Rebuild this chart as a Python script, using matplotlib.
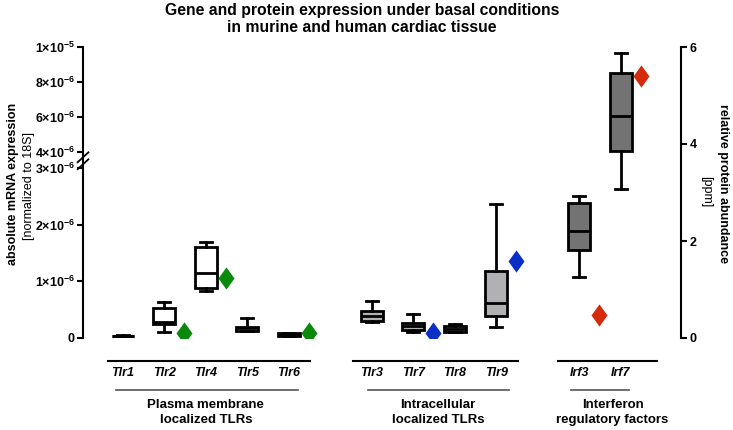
import numpy as np
import matplotlib
matplotlib.use("Agg")
import matplotlib.pyplot as plt
import matplotlib.transforms as mtransforms
from matplotlib.path import Path

plt.rcParams['font.family'] = ['Liberation Sans', 'DejaVu Sans']
plt.rcParams['mathtext.fontset'] = 'custom'
plt.rcParams['mathtext.bf'] = 'Liberation Sans:bold'
plt.rcParams['mathtext.rm'] = 'Liberation Sans'

# mRNA expression, in units of 1e-6
genes = ['Tlr1', 'Tlr2', 'Tlr4', 'Tlr5', 'Tlr6', 'Tlr3', 'Tlr7', 'Tlr8', 'Tlr9', 'Irf3', 'Irf7']
xpos = [0, 1, 2, 3, 4, 6, 7, 8, 9, 11, 12]
whislo = [0.02, 0.11, 0.83, 0.13, 0.03, 0.28, 0.10, 0.10, 0.19, 1.07, 2.63]
q1 = [0.03, 0.24, 0.88, 0.13, 0.035, 0.30, 0.15, 0.11, 0.38, 1.55, 4.06]
med = [0.035, 0.29, 1.14, 0.17, 0.06, 0.39, 0.22, 0.16, 0.61, 1.89, 6.06]
q3 = [0.04, 0.53, 1.60, 0.20, 0.08, 0.48, 0.27, 0.21, 1.19, 2.38, 8.50]
whishi = [0.05, 0.64, 1.70, 0.36, 0.085, 0.66, 0.43, 0.25, 2.36, 2.50, 9.67]
box_colors = ['white'] * 5 + ['#b1b1b4'] * 4 + ['#737373'] * 2

# protein abundance [ppm]
prot_genes = ['Tlr2', 'Tlr4', 'Tlr6', 'Tlr7', 'Tlr9', 'Irf3', 'Irf7']
prot_vals = [0.10, 1.24, 0.10, 0.10, 1.59, 0.47, 5.41]
prot_colors = ['#0a8a0a', '#0a8a0a', '#0a8a0a', '#0b2fc6', '#0b2fc6', '#d62a0c', '#d62a0c']

groups = ['Plasma membrane\nlocalized TLRs', 'Intracellular\nlocalized TLRs', 'Interferon\nregulatory factors']
group_lines = [(-0.36, 4.5), (5.54, 9.52), (10.48, 12.87)]
group_sub = [(-0.17, 4.21), (5.9, 9.3), (10.8, 12.2)]
group_centers = [2.0, 7.6, 11.8]

left_ticks = [0, 1, 2, 3, 4, 6, 8, 10]
left_labels = ['0', '1×10^{-6}', '2×10^{-6}', '3×10^{-6}', '4×10^{-6}',
               '6×10^{-6}', '8×10^{-6}', '1×10^{-5}']

# broken axis: piecewise linear scale
kv = np.array([-10, 0, 3, 4, 10, 20])
kp = np.array([-567, 0, 170, 186, 291, 466])


def fwd(v):
    return np.interp(v, kv, kp)


def inv(p):
    return np.interp(p, kp, kv)


diamond = Path([(0, 1), (0.72, 0), (0, -1), (-0.72, 0), (0, 1)],
               [Path.MOVETO, Path.LINETO, Path.LINETO, Path.LINETO, Path.CLOSEPOLY])

fig = plt.figure(figsize=(7.33, 4.30), dpi=100)
ax = fig.add_axes([83 / 733, 92 / 430, 598 / 733, 291 / 430])
ax.set_yscale('function', functions=(fwd, inv))
ax.set_xlim(-0.96, 13.45)
ax.set_ylim(0, 10)

stats = []
for i in range(len(genes)):
    stats.append(dict(med=med[i], q1=q1[i], q3=q3[i], whislo=whislo[i], whishi=whishi[i], fliers=[]))
bp = ax.bxp(stats, positions=xpos, widths=0.53, capwidths=0.29, patch_artist=True, showfliers=False,
            boxprops=dict(linewidth=2, edgecolor='black'),
            whiskerprops=dict(linewidth=2, color='black'),
            capprops=dict(linewidth=2, color='black'),
            medianprops=dict(linewidth=2, color='black'))
for patch, c in zip(bp['boxes'], box_colors):
    patch.set_facecolor(c)

ax.set_yticks(left_ticks)
ax.set_yticklabels(['$\\mathbf{' + s + '}$' if s != '0' else s for s in left_labels],
                   fontweight='bold', fontsize=9)
ax.set_xticks([])
ax.minorticks_off()
ax.tick_params(axis='y', length=4, width=1.5, pad=2)
for s in ['top', 'right', 'bottom']:
    ax.spines[s].set_visible(False)
ax.spines['left'].set_linewidth(1.5)

# break marks
yb = fwd(3.45) / fwd(10)
for dy in (-0.012, 0.012):
    ax.plot([-0.009, 0.009], [yb + dy - 0.017, yb + dy + 0.017], color='black', lw=1.3,
            transform=ax.transAxes, clip_on=False)

ax2 = ax.twinx()
ax2.set_ylim(0, 6)
ax2.set_yticks([0, 2, 4, 6])
ax2.set_yticklabels(['0', '2', '4', '6'], fontweight='bold', fontsize=9)
ax2.tick_params(axis='y', length=4, width=1.5, pad=2)
for s in ['top', 'left', 'bottom']:
    ax2.spines[s].set_visible(False)
ax2.spines['right'].set_linewidth(1.5)
for g, v, c in zip(prot_genes, prot_vals, prot_colors):
    ax2.plot(xpos[genes.index(g)] + 0.48, v, marker=diamond, ms=16, color=c, mew=0, zorder=5)

trans = mtransforms.blended_transform_factory(ax.transData, ax.transAxes)
for (a, b) in group_lines:
    ax.plot([a, b], [-0.079, -0.079], color='black', lw=1.5, transform=trans, clip_on=False)
for (a, b) in group_sub:
    ax.plot([a, b], [-0.179, -0.179], color='#555555', lw=1.2, transform=trans, clip_on=False)
for g, x in zip(genes, xpos):
    ax.text(x, -0.12, g, transform=trans, ha='center', va='center', fontsize=9,
            fontweight='bold', fontstyle='italic')
for g, x in zip(groups, group_centers):
    ax.text(x, -0.255, g, transform=trans, ha='center', va='center', fontsize=9.5,
            fontweight='bold', linespacing=1.3)

fig.text(13 / 733, 1 - 184 / 430, 'absolute mRNA expression', rotation=90, ha='center', va='center',
         fontsize=9, fontweight='bold')
fig.text(29 / 733, 1 - 186 / 430, '[normalized to 18S]', rotation=90, ha='center', va='center', fontsize=9)
fig.text(723 / 733, 1 - 183 / 430, 'relative protein abundance', rotation=270, ha='center', va='center',
         fontsize=9, fontweight='bold')
fig.text(706 / 733, 1 - 192 / 430, '[ppm]', rotation=270, ha='center', va='center', fontsize=9)

fig.text(362 / 733, 1 - 19 / 430, 'Gene and protein expression under basal conditions\nin murine and human cardiac tissue',
         ha='center', va='center', fontsize=11.3, fontweight='bold', linespacing=1.2)

fig.savefig('out.png', dpi=100)
